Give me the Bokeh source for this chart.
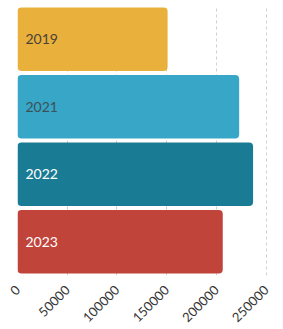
from math import pi
from bokeh.plotting import figure
from bokeh.models import ColumnDataSource, FixedTicker, NumeralTickFormatter
from bokeh.core.properties import value
from bokeh.embed import file_html
from bokeh.resources import INLINE

years = ["2019", "2021", "2022", "2023"]
values = [151000, 223000, 237000, 206500]
colors = ["#E9B13C", "#38A6C6", "#1A7C94", "#C1443B"]
label_colors = ["#4a4238", "#3c5058", "#ffffff", "#ffffff"]
ticks = [0, 50000, 100000, 150000, 200000, 250000]

ypos = [3, 2, 1, 0]
src = ColumnDataSource(dict(y=ypos, v=values, c=colors, lc=label_colors, t=years, x0=[0]*4))

p = figure(width=283, height=329, output_backend="svg", toolbar_location=None,
           x_range=(0, 251500), y_range=(-0.5, 3.5),
           min_border_left=17, min_border_right=16, min_border_top=5, min_border_bottom=52)
p.outline_line_color = None
p.background_fill_color = "white"

p.hbar(y="y", left=0, right="v", height=0.94, fill_color="c", line_color=None,
       border_radius=4, source=src)
p.text(x="x0", y="y", text="t", text_color="lc", x_offset=8, text_baseline="middle",
       text_font=value("Lato"), text_font_size="14px", source=src)

p.yaxis.visible = False
p.ygrid.grid_line_color = None
p.xgrid.grid_line_color = "#cfcfcf"
p.xgrid.grid_line_dash = "3 3"
p.xgrid.ticker = FixedTicker(ticks=ticks)
p.xaxis.ticker = FixedTicker(ticks=ticks)
p.xaxis.formatter = NumeralTickFormatter(format="0")
p.xaxis.axis_line_color = None
p.xaxis.major_tick_line_color = None
p.xaxis.minor_tick_line_color = None
p.xaxis.major_label_orientation = pi / 4
p.xaxis.major_label_text_font = "Lato"
p.xaxis.major_label_text_font_size = "13px"
p.xaxis.major_label_text_color = "#333333"
p.xaxis.major_label_standoff = 6

open("out.html", "w").write(file_html(p, INLINE))
